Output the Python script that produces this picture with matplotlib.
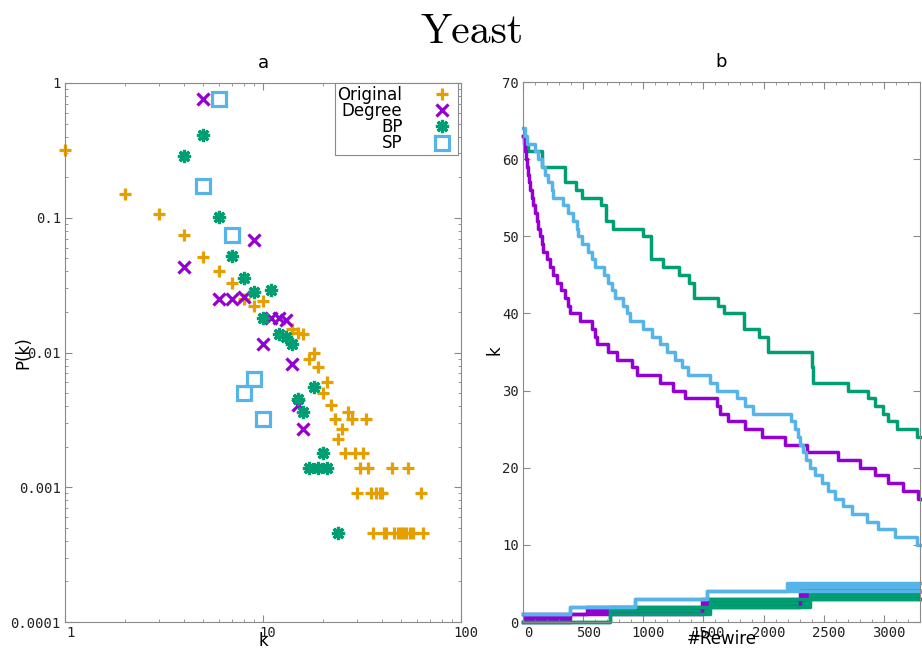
import matplotlib.pyplot as plt
import matplotlib.transforms as mtransforms
import numpy as np
from matplotlib.ticker import LogLocator, MultipleLocator, NullFormatter

ORANGE = "#E69F00"
PURPLE = "#9400D3"
GREEN = "#009E73"
BLUE = "#56B4E9"
FRAME = "#8a8a8a"

# ---- panel a: degree distributions ----
orig_k = [1, 2, 3, 4, 5, 6, 7, 8, 9, 10, 14, 15, 16, 17, 18, 19, 20, 21, 22, 23, 24, 25,
          26, 27, 28, 29, 30, 31, 32, 33, 34, 35, 36, 37, 39, 40, 41, 42, 45, 46, 48, 50,
          51, 53, 54, 55, 57, 63, 64]
orig_p = [0.32, 0.15, 0.107, 0.075, 0.051, 0.040, 0.033, 0.025, 0.022, 0.024, 0.015, 0.014,
          0.0138, 0.0090, 0.0100, 0.0078, 0.0050, 0.0060, 0.0041, 0.0032, 0.0023, 0.0027,
          0.0018, 0.0036, 0.0032, 0.0018, 0.00091, 0.0014, 0.0018, 0.0032, 0.0014, 0.00091,
          0.00046, 0.00091, 0.00091, 0.00091, 0.00046, 0.00046, 0.0014, 0.00046, 0.00046,
          0.00046, 0.00046, 0.00046, 0.0014, 0.00046, 0.00046, 0.00091, 0.00046]

deg_k = [4, 5, 6, 7, 8, 9, 10, 11, 12, 13, 14, 15, 16]
deg_p = [0.043, 0.76, 0.025, 0.025, 0.026, 0.068, 0.0115, 0.018, 0.018, 0.0175, 0.0082,
         0.0041, 0.0027]

bp_k = [4, 5, 6, 7, 8, 9, 10, 11, 12, 13, 14, 15, 16, 17, 18, 19, 20, 21, 24]
bp_p = [0.288, 0.41, 0.101, 0.052, 0.036, 0.028, 0.018, 0.029, 0.0137, 0.013, 0.0115,
        0.0045, 0.0036, 0.0014, 0.0055, 0.0014, 0.0018, 0.0014, 0.00046]

sp_k = [5, 6, 7, 8, 9, 10]
sp_p = [0.172, 0.76, 0.075, 0.005, 0.0064, 0.0032]

# ---- panel b: max degree vs number of rewires (step curves) ----
green_r = [0, 20, 45, 155, 349, 440, 488, 645, 690, 750, 1000, 1060, 1166, 1298, 1380, 1425,
           1617, 1672, 1838, 1963, 2033, 2400, 2405, 2410, 2414, 2704, 2864, 2926, 2995, 3037,
           3106, 3272, 3300]
green_k = [63, 62, 61, 59, 57, 56, 55, 54, 52, 51, 50, 47, 46, 45, 44, 42, 41, 40, 38, 37, 35,
           34, 33, 32, 31, 30, 29, 28, 27, 26, 25, 24, 24]

purple_r = [0, 12, 20, 26, 31, 42, 52, 62, 74, 86, 100, 114, 128, 141, 155, 169, 197, 224, 252,
            285, 313, 349, 377, 391, 474, 571, 598, 612, 709, 779, 903, 945, 1139, 1250, 1347,
            1610, 1637, 1707, 1845, 1984, 2178, 2358, 2621, 2801, 2926, 3037, 3161, 3285, 3300]
purple_k = [63, 62, 61, 60, 59, 58, 57, 56, 55, 54, 53, 52, 51, 50, 49, 48, 47, 46, 45, 44, 43,
            42, 41, 40, 39, 38, 37, 36, 35, 34, 33, 32, 31, 30, 29, 28, 27, 26, 25, 24, 23, 22,
            21, 20, 19, 18, 17, 16, 16]

blue_r = [0, 15, 31, 100, 128, 155, 183, 210, 238, 252, 335, 377, 418, 446, 460, 488, 543, 571,
          598, 675, 709, 737, 765, 830, 862, 889, 1000, 1069, 1139, 1200, 1264, 1319, 1374, 1555,
          1610, 1776, 1845, 1915, 2225, 2261, 2289, 2303, 2330, 2350, 2386, 2427, 2483, 2538,
          2594, 2663, 2732, 2857, 2954, 3092, 3272, 3300]
blue_k = [64, 63, 62, 61, 60, 59, 58, 57, 56, 55, 54, 53, 52, 51, 50, 49, 48, 47, 46, 45, 44,
          43, 42, 41, 40, 39, 38, 37, 36, 35, 34, 33, 32, 31, 30, 29, 28, 27, 26, 25, 24, 23, 22,
          21, 20, 19, 18, 17, 16, 15, 14, 13, 12, 11, 10, 10]

# min degree curves flicker between two values -> lower / upper envelopes
purple_min_r = [0, 391, 530, 1485, 2303, 3300]
purple_min_lo = [0, 1, 1, 2, 3, 3]
purple_min_hi = [1, 1, 2, 3, 4, 4]

green_min_r = [0, 723, 1554, 2386, 3300]
green_min_lo = [0, 1, 2, 3, 3]
green_min_hi = [0, 2, 3, 4, 4]

blue_min_r = [0, 391, 931, 1527, 2197, 3300]
blue_min_lo = [1, 2, 3, 4, 4, 4]
blue_min_hi = [1, 2, 3, 4, 5, 5]

fig = plt.figure(figsize=(9.22, 6.52), dpi=100)
W, H = 922, 652
ax1 = fig.add_axes([65 / W, 30 / H, 396 / W, 539 / H])
ax2 = fig.add_axes([523 / W, 30 / H, 397 / W, 540 / H])

fig.text(472 / W, 1 - 43 / H, "Yeast", fontfamily="cmr10", fontsize=30,
         ha="center", va="baseline")

mew = 2.3
ax1.plot(orig_k, orig_p, ls="none", marker="+", ms=9, mew=mew, color=ORANGE,
         label="Original", clip_on=False)
ax1.plot(deg_k, deg_p, ls="none", marker="x", ms=8.5, mew=mew, color=PURPLE,
         label="Degree", clip_on=False)
ax1.plot(bp_k, bp_p, ls="none", marker=(8, 2, 0), ms=9.5, mew=mew, color=GREEN,
         label="BP", clip_on=False)
ax1.plot(sp_k, sp_p, ls="none", marker="s", ms=9.5, mew=mew, mfc="none", color=BLUE,
         label="SP", clip_on=False)

ax1.set_xscale("log")
ax1.set_yscale("log")
ax1.set_xlim(1, 100)
ax1.set_ylim(1e-4, 1)
ax1.set_xticks([1, 10, 100], ["1", "10", "100"])
ax1.set_yticks([1e-4, 1e-3, 1e-2, 1e-1, 1], ["0.0001", "0.001", "0.01", "0.1", "1"])
ax1.xaxis.set_minor_locator(LogLocator(subs=np.arange(2, 10)))
ax1.yaxis.set_minor_locator(LogLocator(subs=np.arange(2, 10)))
ax1.xaxis.set_minor_formatter(NullFormatter())
ax1.yaxis.set_minor_formatter(NullFormatter())

leg = ax1.legend(loc="upper right", bbox_to_anchor=(0.993, 1.0), markerfirst=False,
                 numpoints=1, fancybox=False, edgecolor=FRAME, framealpha=1,
                 fontsize=12, labelspacing=-0.1, borderpad=0.15, handletextpad=1.6,
                 handlelength=1.6, borderaxespad=0)
leg.get_frame().set_linewidth(0.8)

ax1.set_title("a", fontsize=13, pad=11)
ax1.set_xlabel("k", fontsize=12)
ax1.set_ylabel("P(k)", fontsize=12)
ax1.xaxis.set_label_coords(0.5, -0.018)
ax1.yaxis.set_label_coords(-0.083, 0.5)

# panel b
lw = 2.5
ax2.step(green_r, green_k, where="post", color=GREEN, lw=lw, clip_on=False)
ax2.step(purple_r, purple_k, where="post", color=PURPLE, lw=lw, clip_on=False)
ax2.step(blue_r, blue_k, where="post", color=BLUE, lw=lw, clip_on=False)
for r, lo, hi, c in [(purple_min_r, purple_min_lo, purple_min_hi, PURPLE),
                     (green_min_r, green_min_lo, green_min_hi, GREEN),
                     (blue_min_r, blue_min_lo, blue_min_hi, BLUE)]:
    ax2.fill_between(r, lo, hi, step="post", color=c, lw=0)
    ax2.step(r, lo, where="post", color=c, lw=lw, clip_on=False)
    ax2.step(r, hi, where="post", color=c, lw=lw, clip_on=False)

ax2.set_xlim(0, 3300)
ax2.set_ylim(0, 70)
ax2.set_xticks(range(0, 3001, 500))
ax2.set_yticks(range(0, 71, 10))
ax2.xaxis.set_minor_locator(MultipleLocator(100))
ax2.set_title("b", fontsize=13, pad=11)
ax2.set_xlabel("#Rewire", fontsize=12)
ax2.set_ylabel("k", fontsize=12)
ax2.xaxis.set_label_coords(0.5, -0.015)
ax2.yaxis.set_label_coords(-0.05, 0.504)

shift = mtransforms.ScaledTranslation(0.05, 0, fig.dpi_scale_trans)
for ax in (ax1, ax2):
    for sp in ax.spines.values():
        sp.set_color(FRAME)
        sp.set_linewidth(0.8)
    ax.tick_params(which="both", direction="in", top=True, right=True, color=FRAME,
                   labelsize=10, labelfontfamily="DejaVu Sans Mono", labelcolor="#222222",
                   pad=3)
    ax.tick_params(which="major", length=5)
    ax.tick_params(which="minor", length=2.5)
    for lab in ax.get_xticklabels():
        lab.set_transform(lab.get_transform() + shift)

fig.savefig("out.png", dpi=100)
